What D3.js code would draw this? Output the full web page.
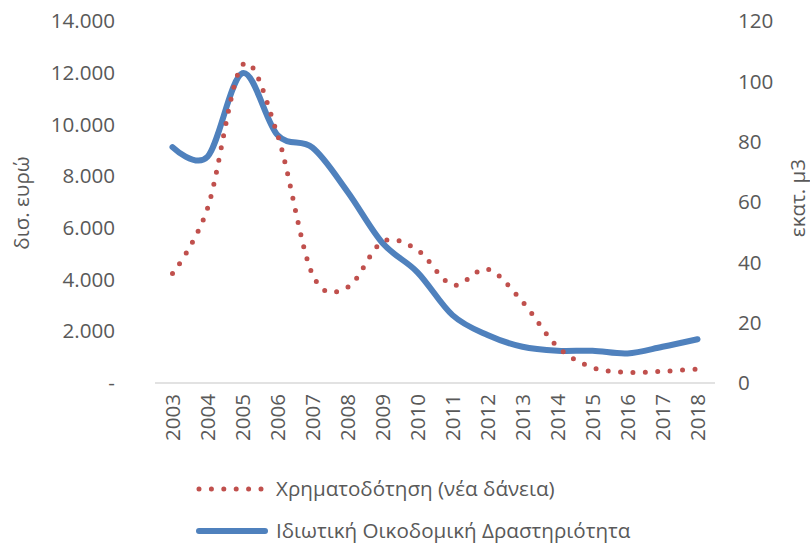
<!DOCTYPE html>
<html>
<head>
<meta charset="utf-8">
<script src="https://cdn.jsdelivr.net/npm/d3@7"></script>
<style>
  html, body { margin: 0; padding: 0; background: #fff; }
  svg text { font-family: "Open Sans", "Noto Sans", sans-serif; fill: #595959; }
</style>
</head>
<body>
<svg id="chart" width="810" height="547"></svg>
<script>
// Years on the category axis
const years = ["2003","2004","2005","2006","2007","2008","2009","2010",
               "2011","2012","2013","2014","2015","2016","2017","2018"];
// New loans, million euro (left axis)
const loans = [4230, 6750, 12300, 9600, 4200, 3700, 5460, 5140,
               3790, 4400, 3140, 1400, 600, 410, 450, 540];
// Private building activity, million m3 (right axis)
const building = [78.2, 75, 102.7, 82.2, 78, 63.4, 46.4, 36.7,
                  22.5, 15.9, 12, 10.7, 10.7, 9.8, 12, 14.5];
const leftTicks = [0, 2000, 4000, 6000, 8000, 10000, 12000, 14000];
const rightTicks = [0, 20, 40, 60, 80, 100, 120];
const loansLabel = "Χρηματοδότηση (νέα δάνεια)";
const buildingLabel = "Ιδιωτική Οικοδομική Δραστηριότητα";

const svg = d3.select("#chart");
const plot = { left: 155, right: 715, top: 21, bottom: 383 };
const fontSize = 20.6;

const x = d3.scalePoint().domain(years)
  .range([plot.left, plot.right]).padding(0.5);
const yL = d3.scaleLinear().domain([0, 14000]).range([plot.bottom, plot.top]);
const yR = d3.scaleLinear().domain([0, 120]).range([plot.bottom, plot.top]);

const fmt = v => v === 0 ? "-" : d3.format(",")(v).replace(/,/g, ".");

// Left axis labels
svg.append("g").selectAll("text").data(leftTicks).join("text")
  .attr("x", 115).attr("y", d => yL(d)).attr("dy", "0.35em")
  .attr("text-anchor", "end").attr("font-size", fontSize)
  .text(fmt);

// Right axis labels
svg.append("g").selectAll("text").data(rightTicks).join("text")
  .attr("x", 738).attr("y", d => yR(d)).attr("dy", "0.35em")
  .attr("text-anchor", "start").attr("font-size", fontSize)
  .text(d => d);

// Category axis line
svg.append("line")
  .attr("x1", plot.left).attr("x2", plot.right)
  .attr("y1", plot.bottom).attr("y2", plot.bottom)
  .attr("stroke", "#d9d9d9").attr("stroke-width", 1.5);

// Year labels, rotated
svg.append("g").selectAll("text").data(years).join("text")
  .attr("transform", d => `translate(${x(d)},394) rotate(-90)`)
  .attr("dy", "0.35em").attr("text-anchor", "end").attr("font-size", fontSize)
  .text(d => d);

// Axis titles
svg.append("text")
  .attr("transform", "translate(22,203) rotate(-90)")
  .attr("dy", "0.35em").attr("text-anchor", "middle").attr("font-size", fontSize)
  .text("δισ. ευρώ");
svg.append("text")
  .attr("transform", "translate(798,198) rotate(-90)")
  .attr("dy", "0.35em").attr("text-anchor", "middle").attr("font-size", fontSize)
  .text("εκατ. μ3");

const curve = d3.curveCardinal.tension(0);

// Building activity line
svg.append("path")
  .datum(building)
  .attr("d", d3.line().x((d, i) => x(years[i])).y(d => yR(d)).curve(curve))
  .attr("fill", "none").attr("stroke", "#4f81bd")
  .attr("stroke-width", 6).attr("stroke-linecap", "round");

// New loans dotted line
svg.append("path")
  .datum(loans)
  .attr("d", d3.line().x((d, i) => x(years[i])).y(d => yL(d)).curve(curve))
  .attr("fill", "none").attr("stroke", "#c0504d")
  .attr("stroke-width", 5).attr("stroke-linecap", "round")
  .attr("stroke-dasharray", "0 12.4");

// Legend
const legend = svg.append("g");
legend.append("line")
  .attr("x1", 199).attr("x2", 262).attr("y1", 489).attr("y2", 489)
  .attr("stroke", "#c0504d").attr("stroke-width", 5)
  .attr("stroke-linecap", "round").attr("stroke-dasharray", "0 12.4");
legend.append("text")
  .attr("x", 276).attr("y", 489).attr("dy", "0.35em").attr("font-size", fontSize)
  .text(loansLabel);
legend.append("line")
  .attr("x1", 199).attr("x2", 265).attr("y1", 531).attr("y2", 531)
  .attr("stroke", "#4f81bd").attr("stroke-width", 6)
  .attr("stroke-linecap", "round");
legend.append("text")
  .attr("x", 276).attr("y", 531).attr("dy", "0.35em").attr("font-size", fontSize)
  .text(buildingLabel);
</script>
</body>
</html>
